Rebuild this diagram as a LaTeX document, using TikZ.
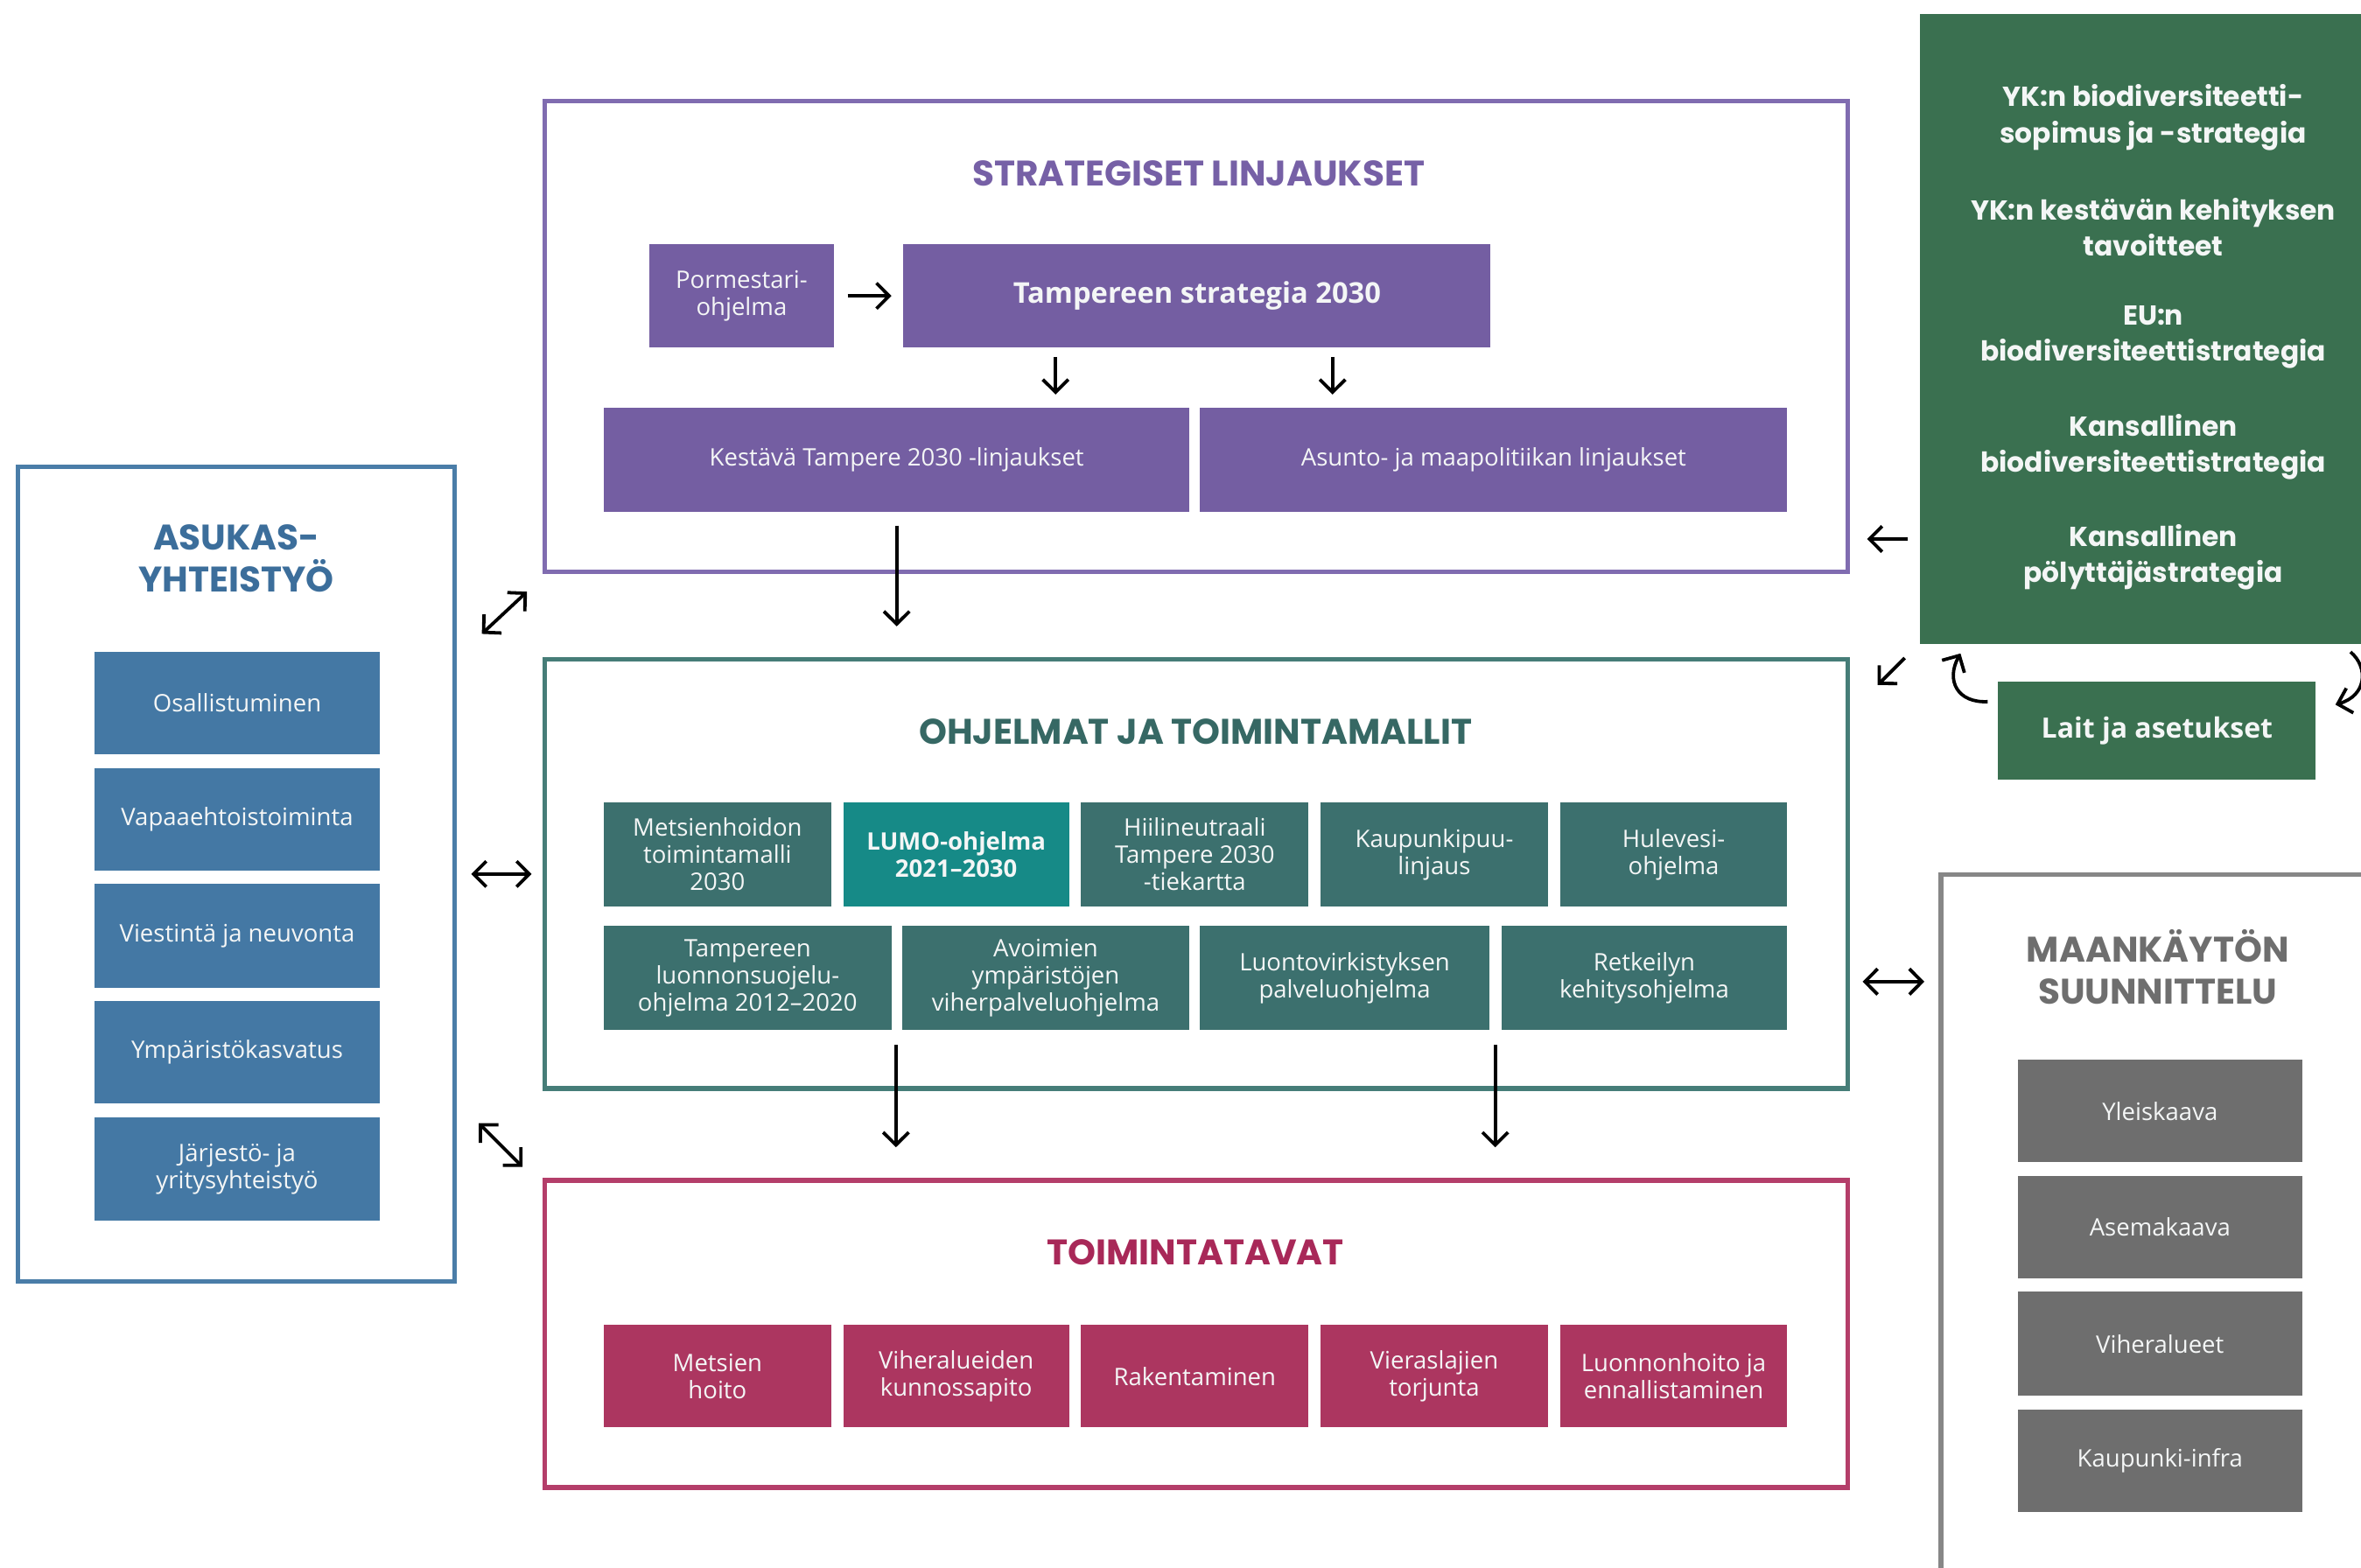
\documentclass[tikz,border=0pt]{standalone}
\usepackage{fontspec}
\setmainfont{Open Sans}
\newfontfamily\tf{Poppins}
\usetikzlibrary{arrows.meta}
\definecolor{pfill}{RGB}{116,94,162}
\definecolor{pline}{RGB}{128,108,176}
\definecolor{ptitle}{RGB}{118,96,166}
\definecolor{tfill}{RGB}{60,112,110}
\definecolor{tlumo}{RGB}{22,138,135}
\definecolor{tline}{RGB}{70,125,120}
\definecolor{ttitle}{RGB}{54,104,100}
\definecolor{kfill}{RGB}{172,54,96}
\definecolor{kline}{RGB}{180,62,106}
\definecolor{ktitle}{RGB}{168,40,88}
\definecolor{bfill}{RGB}{68,120,164}
\definecolor{bline}{RGB}{74,125,168}
\definecolor{btitle}{RGB}{60,110,155}
\definecolor{gfill}{RGB}{58,112,80}
\definecolor{mfill}{RGB}{110,110,110}
\definecolor{mline}{RGB}{135,135,135}
\definecolor{mtitle}{RGB}{110,110,110}
\definecolor{boxtxt}{RGB}{244,246,246}
\begin{document}
\begin{tikzpicture}[x=0.5pt,y=-0.5pt,
  bx/.style={inner sep=0pt, outer sep=0pt, align=center, text=boxtxt, font=\fontsize{8}{9}\selectfont},
  sz/.style 2 args={minimum width={#1*0.5pt}, minimum height={#2*0.5pt}},
  fr/.style={draw, line width=1.5pt, inner sep=0pt, outer sep=0pt},
  ttl/.style={align=center, font=\tf\bfseries\fontsize{11.8}{14}\selectfont},
  sttl/.style={align=center, font=\tf\bfseries\fontsize{11.8}{14}\selectfont},
  gtx/.style={align=center, text=boxtxt, font=\tf\bfseries\fontsize{9.1}{12}\selectfont},
  arr/.style={-{Straight Barb[length=4.2pt,width=8.5pt]}, line width=1.1pt, black},
  darr/.style={{Straight Barb[length=4.2pt,width=8.5pt]}-{Straight Barb[length=4.2pt,width=8.5pt]}, line width=1.1pt, black}
]
\useasboundingbox (0,0) rectangle (1568,1041);

% ---------- STRATEGISET LINJAUKSET ----------
\node[fr, draw=pline, sz={865}{313}] (P) at (794.5,223.5) {};
\node[ttl, text=ptitle] (Pt) at (796,115) {STRATEGISET LINJAUKSET};
\node[bx, fill=pfill, sz={123}{69}] (pm) at (492.5,196.5) {Pormestari-\\ohjelma};
\node[bx, fill=pfill, sz={390}{69}, font=\bfseries\fontsize{9.5}{11}\selectfont] (st) at (795,196.5) {Tampereen strategia 2030};
\node[bx, fill=pfill, sz={389}{69}] (ke) at (595.5,305.5) {\raisebox{-1.5pt}{Kestävä Tampere 2030 -linjaukset}};
\node[bx, fill=pfill, sz={390}{69}] (as) at (992,305.5) {\raisebox{-1.5pt}{Asunto- ja maapolitiikan linjaukset}};

% ---------- OHJELMAT JA TOIMINTAMALLIT ----------
\node[fr, draw=tline, sz={865}{285}] (T) at (794.5,580.5) {};
\node[ttl, text=ttitle] (Tt) at (794,486) {OHJELMAT JA TOIMINTAMALLIT};
\node[bx, fill=tfill, sz={151}{69}] (m1) at (476.5,567.5) {Metsienhoidon\\toimintamalli\\2030};
\node[bx, fill=tlumo, sz={150}{69}, font=\bfseries\fontsize{8}{9}\selectfont] (m2) at (635,567.5) {LUMO-ohjelma\\2021–2030};
\node[bx, fill=tfill, sz={151}{69}] (m3) at (793.5,567.5) {Hiilineutraali\\Tampere 2030\\-tiekartta};
\node[bx, fill=tfill, sz={151}{69}] (m4) at (952.5,567.5) {Kaupunkipuu-\\linjaus};
\node[bx, fill=tfill, sz={151}{69}] (m5) at (1111.5,567.5) {Hulevesi-\\ohjelma};
\node[bx, fill=tfill, sz={191}{69}] (n1) at (496.5,649.5) {Tampereen\\luonnonsuojelu-\\ohjelma 2012–2020};
\node[bx, fill=tfill, sz={191}{69}] (n2) at (694.5,649.5) {Avoimien\\ympäristöjen\\viherpalveluohjelma};
\node[bx, fill=tfill, sz={192}{69}] (n3) at (893,649.5) {Luontovirkistyksen\\palveluohjelma};
\node[bx, fill=tfill, sz={190}{69}] (n4) at (1092,649.5) {Retkeilyn\\kehitysohjelma};

% ---------- TOIMINTATAVAT ----------
\node[fr, draw=kline, sz={865}{204}] (K) at (794.5,886) {};
\node[ttl, text=ktitle] (Kt) at (794,832) {TOIMINTATAVAT};
\node[bx, fill=kfill, sz={151}{68}] (k1) at (476.5,914) {Metsien\\hoito};
\node[bx, fill=kfill, sz={150}{68}] (k2) at (635,914) {Viheralueiden\\kunnossapito};
\node[bx, fill=kfill, sz={151}{68}] (k3) at (793.5,914) {Rakentaminen};
\node[bx, fill=kfill, sz={151}{68}] (k4) at (952.5,914) {Vieraslajien\\torjunta};
\node[bx, fill=kfill, sz={151}{68}] (k5) at (1111.5,914) {Luonnonhoito ja\\ennallistaminen};

% ---------- ASUKASYHTEISTYÖ ----------
\node[fr, draw=bline, sz={290}{541}] (A) at (157,580.5) {};
\node[sttl, text=btitle] (At) at (157,371) {ASUKAS-\\YHTEISTYÖ};
\node[bx, fill=bfill, sz={189}{68}] (a1) at (157.5,467) {Osallistuminen};
\node[bx, fill=bfill, sz={189}{68}] (a2) at (157.5,544) {Vapaaehtoistoiminta};
\node[bx, fill=bfill, sz={189}{69}] (a3) at (157.5,621.5) {Viestintä ja neuvonta};
\node[bx, fill=bfill, sz={189}{68}] (a4) at (157.5,699) {Ympäristökasvatus};
\node[bx, fill=bfill, sz={189}{69}] (a5) at (157.5,776.5) {Järjestö- ja\\yritysyhteistyö};

% ---------- GREEN ----------
\node[fill=gfill, inner sep=0pt, outer sep=0pt, sz={310}{419}] (G) at (1430,218.5) {};
\node[gtx] (g1) at (1430,78) {YK:n biodiversiteetti-\\sopimus ja -strategia};
\node[gtx] (g2) at (1430,151) {YK:n kestävän kehityksen\\tavoitteet};
\node[gtx] (g3) at (1430,224) {EU:n\\biodiversiteettistrategia};
\node[gtx] (g4) at (1430,297) {Kansallinen\\biodiversiteettistrategia};
\node[gtx] (g5) at (1430,370) {Kansallinen\\pölyttäjästrategia};
\node[bx, fill=gfill, sz={211}{65}, font=\bfseries\fontsize{9.3}{10}\selectfont] (L) at (1432.5,485.5) {\raisebox{-1.5pt}{Lait ja asetukset}};

% ---------- MAANKÄYTÖN SUUNNITTELU ----------
\node[fr, draw=mline, sz={288}{479}] (M) at (1433,820.5) {};
\node[sttl, text=mtitle] (Mt) at (1433,642) {MAANKÄYTÖN\\SUUNNITTELU};
\node[bx, fill=mfill, sz={189}{68}] (y1) at (1434.5,738) {Yleiskaava};
\node[bx, fill=mfill, sz={189}{68}] (y2) at (1434.5,815) {Asemakaava};
\node[bx, fill=mfill, sz={189}{69}] (y3) at (1434.5,892.5) {Viheralueet};
\node[bx, fill=mfill, sz={189}{68}] (y4) at (1434.5,970) {Kaupunki-infra};

% ---------- ARROWS ----------
\draw[arr] ([xshift=4.5pt]pm.east) -- ([xshift=-4pt]st.west);
\draw[arr] ([xshift=-47pt,yshift=-3pt]st.south) -- ([xshift=52.75pt,yshift=4.5pt]ke.north);
\draw[arr] ([xshift=45pt,yshift=-3pt]st.south) -- ([xshift=-53.5pt,yshift=4.5pt]as.north);
\draw[arr] ([yshift=-4.5pt]ke.south) -- ([yshift=11pt]ke.south |- T.north);
\draw[arr] ([xshift=-99.75pt,yshift=14.5pt]T.south) -- ([xshift=-99.75pt,yshift=11pt]K.north);
\draw[arr] ([xshift=99.25pt,yshift=14.5pt]T.south) -- ([xshift=99.25pt,yshift=11pt]K.north);

\draw[darr] ([xshift=9pt,yshift=-55.5pt]A.north east) -- ([xshift=-6pt,yshift=-6.5pt]P.south west);
\draw[darr] ([xshift=5.5pt]A.east) -- ([xshift=-4.5pt]T.west);
\draw[darr] ([xshift=8pt,yshift=-82.75pt]A.east) -- ([xshift=-7.5pt,yshift=4.5pt]K.north west);

\draw[arr] ([xshift=-4pt,yshift=-69.75pt]G.west) -- ([xshift=6.5pt,yshift=-67.25pt]P.east);
\draw[arr] ([xshift=-5pt,yshift=-4.5pt]G.south west) -- ([xshift=10pt,yshift=-8.5pt]T.north east);
\draw[arr] ([xshift=-3.5pt,yshift=-6.5pt]L.north west) .. controls +(-20,1) and +(-10,18) .. ([xshift=13.5pt,yshift=-3pt]G.south west);
\draw[arr] ([xshift=65.5pt,yshift=-2.5pt]G.south) .. controls +(12,10) and +(21,-6) .. ([xshift=6.5pt,yshift=8.75pt]L.east);
\draw[darr] ([xshift=5pt,yshift=-35.75pt]T.east) -- ([xshift=-5.5pt,yshift=84.25pt]M.west);
\end{tikzpicture}
\end{document}
